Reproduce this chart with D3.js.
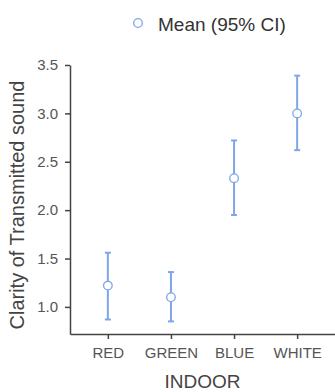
<!DOCTYPE html>
<html>
<head>
<meta charset="utf-8">
<script src="https://cdn.jsdelivr.net/npm/d3@7"></script>
<style>
  body { margin: 0; background: #fff; }
  svg { display: block; font-family: "Liberation Sans", Arial, sans-serif; }
</style>
</head>
<body>
<div id="chart"></div>
<script>
var width = 335;
var height = 392;

// data
var categories = ["RED", "GREEN", "BLUE", "WHITE"];
var means = [1.22, 1.10, 2.33, 3.00];
var lower = [0.87, 0.85, 1.95, 2.62];
var upper = [1.56, 1.36, 2.72, 3.39];
var yTicks = [1.0, 1.5, 2.0, 2.5, 3.0, 3.5];

var blue = "#7ea6e6";
var axisColor = "#444";
var textColor = "#555";

var svg = d3.select("#chart")
  .append("svg")
  .attr("width", width)
  .attr("height", height);

svg.append("rect")
  .attr("width", "100%")
  .attr("height", "100%")
  .attr("fill", "white");

var x = d3.scalePoint()
  .domain(categories)
  .range([70, 335])
  .padding(0.6);

var y = d3.scaleLinear()
  .domain([0.72, 3.5])
  .range([334, 65]);

// y axis
var yAxis = svg.append("g")
  .attr("transform", "translate(70,0)")
  .call(d3.axisLeft(y).tickValues(yTicks).tickFormat(d3.format(".1f")).tickSize(5).tickSizeOuter(0).tickPadding(7));

// x axis
var xAxis = svg.append("g")
  .attr("transform", "translate(0,334)")
  .call(d3.axisBottom(x).tickSize(5).tickSizeOuter(0).tickPadding(8));

[yAxis, xAxis].forEach(function(g) {
  g.select(".domain").attr("stroke", axisColor).attr("stroke-width", 1.5);
  g.selectAll(".tick line").attr("stroke", axisColor).attr("stroke-width", 1.5);
  g.selectAll(".tick text").attr("fill", textColor).style("font-size", "15px");
});

// error bars
var rows = categories.map(function(c, i) {
  return { cat: c, mean: means[i], lo: lower[i], hi: upper[i] };
});

var bars = svg.append("g");

bars.selectAll("line.whisker")
  .data(rows)
  .enter()
  .append("line")
  .attr("class", "whisker")
  .attr("x1", function(d) { return x(d.cat); })
  .attr("x2", function(d) { return x(d.cat); })
  .attr("y1", function(d) { return y(d.lo); })
  .attr("y2", function(d) { return y(d.hi); })
  .attr("stroke", blue)
  .attr("stroke-width", 2);

["lo", "hi"].forEach(function(k) {
  bars.selectAll("line.cap-" + k)
    .data(rows)
    .enter()
    .append("line")
    .attr("class", "cap-" + k)
    .attr("x1", function(d) { return x(d.cat) - 3; })
    .attr("x2", function(d) { return x(d.cat) + 3; })
    .attr("y1", function(d) { return y(d[k]); })
    .attr("y2", function(d) { return y(d[k]); })
    .attr("stroke", blue)
    .attr("stroke-width", 2);
});

bars.selectAll("circle")
  .data(rows)
  .enter()
  .append("circle")
  .attr("cx", function(d) { return x(d.cat); })
  .attr("cy", function(d) { return y(d.mean); })
  .attr("r", 4.3)
  .attr("fill", "white")
  .attr("stroke", blue)
  .attr("stroke-width", 1.3);

// legend
svg.append("circle")
  .attr("cx", 138)
  .attr("cy", 23)
  .attr("r", 4.3)
  .attr("fill", "white")
  .attr("stroke", blue)
  .attr("stroke-width", 1.3);

svg.append("text")
  .attr("x", 158)
  .attr("y", 31)
  .attr("fill", "#333")
  .style("font-size", "19px")
  .text("Mean (95% CI)");

// axis titles
svg.append("text")
  .attr("x", 202.5)
  .attr("y", 388)
  .attr("text-anchor", "middle")
  .attr("fill", "#444")
  .style("font-size", "19px")
  .text("INDOOR");

svg.append("text")
  .attr("transform", "translate(24,205) rotate(-90)")
  .attr("text-anchor", "middle")
  .attr("fill", "#444")
  .style("font-size", "20px")
  .text("Clarity of Transmitted sound");
</script>
</body>
</html>
